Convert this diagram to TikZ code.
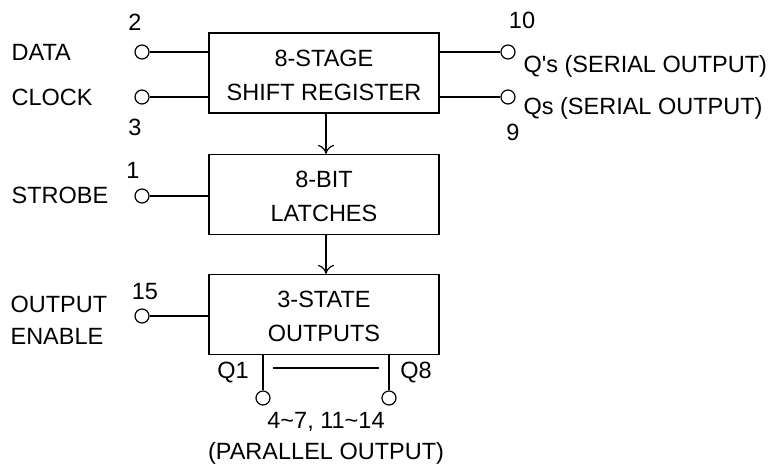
\documentclass[tikz,border=0pt]{standalone}
\usepackage{fontspec}
\setmainfont{Liberation Sans}
\usetikzlibrary{arrows.meta}
\begin{document}
\begin{tikzpicture}[x=1pt,y=-1pt,line width=1.2pt,
  blk/.style={draw,minimum width=230pt,minimum height=80pt,align=center,inner sep=0pt,font=\fontsize{23.5}{34}\selectfont},
  pin/.style={draw,circle,minimum size=14pt,inner sep=0pt,fill=white},
  lbl/.style={inner sep=0pt,font=\fontsize{23.5}{27}\selectfont},
  arr/.style={-{To[length=9pt,width=16pt]}}]
\useasboundingbox (0,0) rectangle (776,464);
\node[blk] (sr) at (324,73) {\rule{0pt}{21pt}8-STAGE\\SHIFT REGISTER};
\node[blk] (la) at (324,194.5) {\rule{0pt}{21pt}8-BIT\\LATCHES};
\node[blk] (so) at (324,314.5) {\rule{0pt}{21pt}3-STATE\\OUTPUTS};
\node[pin] (pdata) at (142,52) {};
\node[pin] (pclk) at (142,97) {};
\node[pin] (pq1) at (508,52) {};
\node[pin] (pq2) at (508,97) {};
\node[pin] (pstr) at (142,196) {};
\node[pin] (poe) at (142,316) {};
\node[pin] (po1) at (263,398) {};
\node[pin] (po8) at (389,398) {};
\draw (pdata) -- (pdata -| sr.west);
\draw (pclk) -- (pclk -| sr.west);
\draw (pq1) -- (pq1 -| sr.east);
\draw (pq2) -- (pq2 -| sr.east);
\draw (pstr) -- (pstr -| la.west);
\draw (poe) -- (poe -| so.west);
\draw (po1) -- (po1 |- so.south);
\draw (po8) -- (po8 |- so.south);
\coordinate (ba) at (273,368);
\coordinate (bb) at (379,368);
\draw (ba) -- (bb);
\draw[arr] (326,0 |- sr.south) -- (326,0 |- la.north);
\draw[arr] (326,0 |- la.south) -- (326,0 |- so.north);
\node[lbl,anchor=west] (tdata) at (11,52) {DATA};
\node[lbl,anchor=west] (tclk) at (11,97) {CLOCK};
\node[lbl] (t2) at (135,22) {2};
\node[lbl] (t3) at (135,127) {3};
\node[lbl] (t10) at (522,20) {10};
\node[lbl] (t9) at (513,132) {9};
\node[lbl,anchor=west] (tq1) at (523,66) {Q\textquotesingle s (SERIAL OUTPUT)};
\node[lbl,anchor=west] (tq2) at (523,108) {Qs (SERIAL OUTPUT)};
\node[lbl] (t1) at (133,170) {1};
\node[lbl,anchor=west] (tstr) at (11,195) {STROBE};
\node[lbl] (t15) at (145,292) {15};
\node[lbl,anchor=west] (toe1) at (10,304) {OUTPUT};
\node[lbl,anchor=west] (toe2) at (10,336) {ENABLE};
\node[lbl] (tQ1) at (233,373) {Q1};
\node[lbl] (tQ8) at (416,373) {Q8};
\node[lbl] (tpins) at (326,422) {4\textasciitilde 7, 11\textasciitilde 14};
\node[lbl] (tpar) at (326,453) {(PARALLEL OUTPUT)};
\end{tikzpicture}
\end{document}
